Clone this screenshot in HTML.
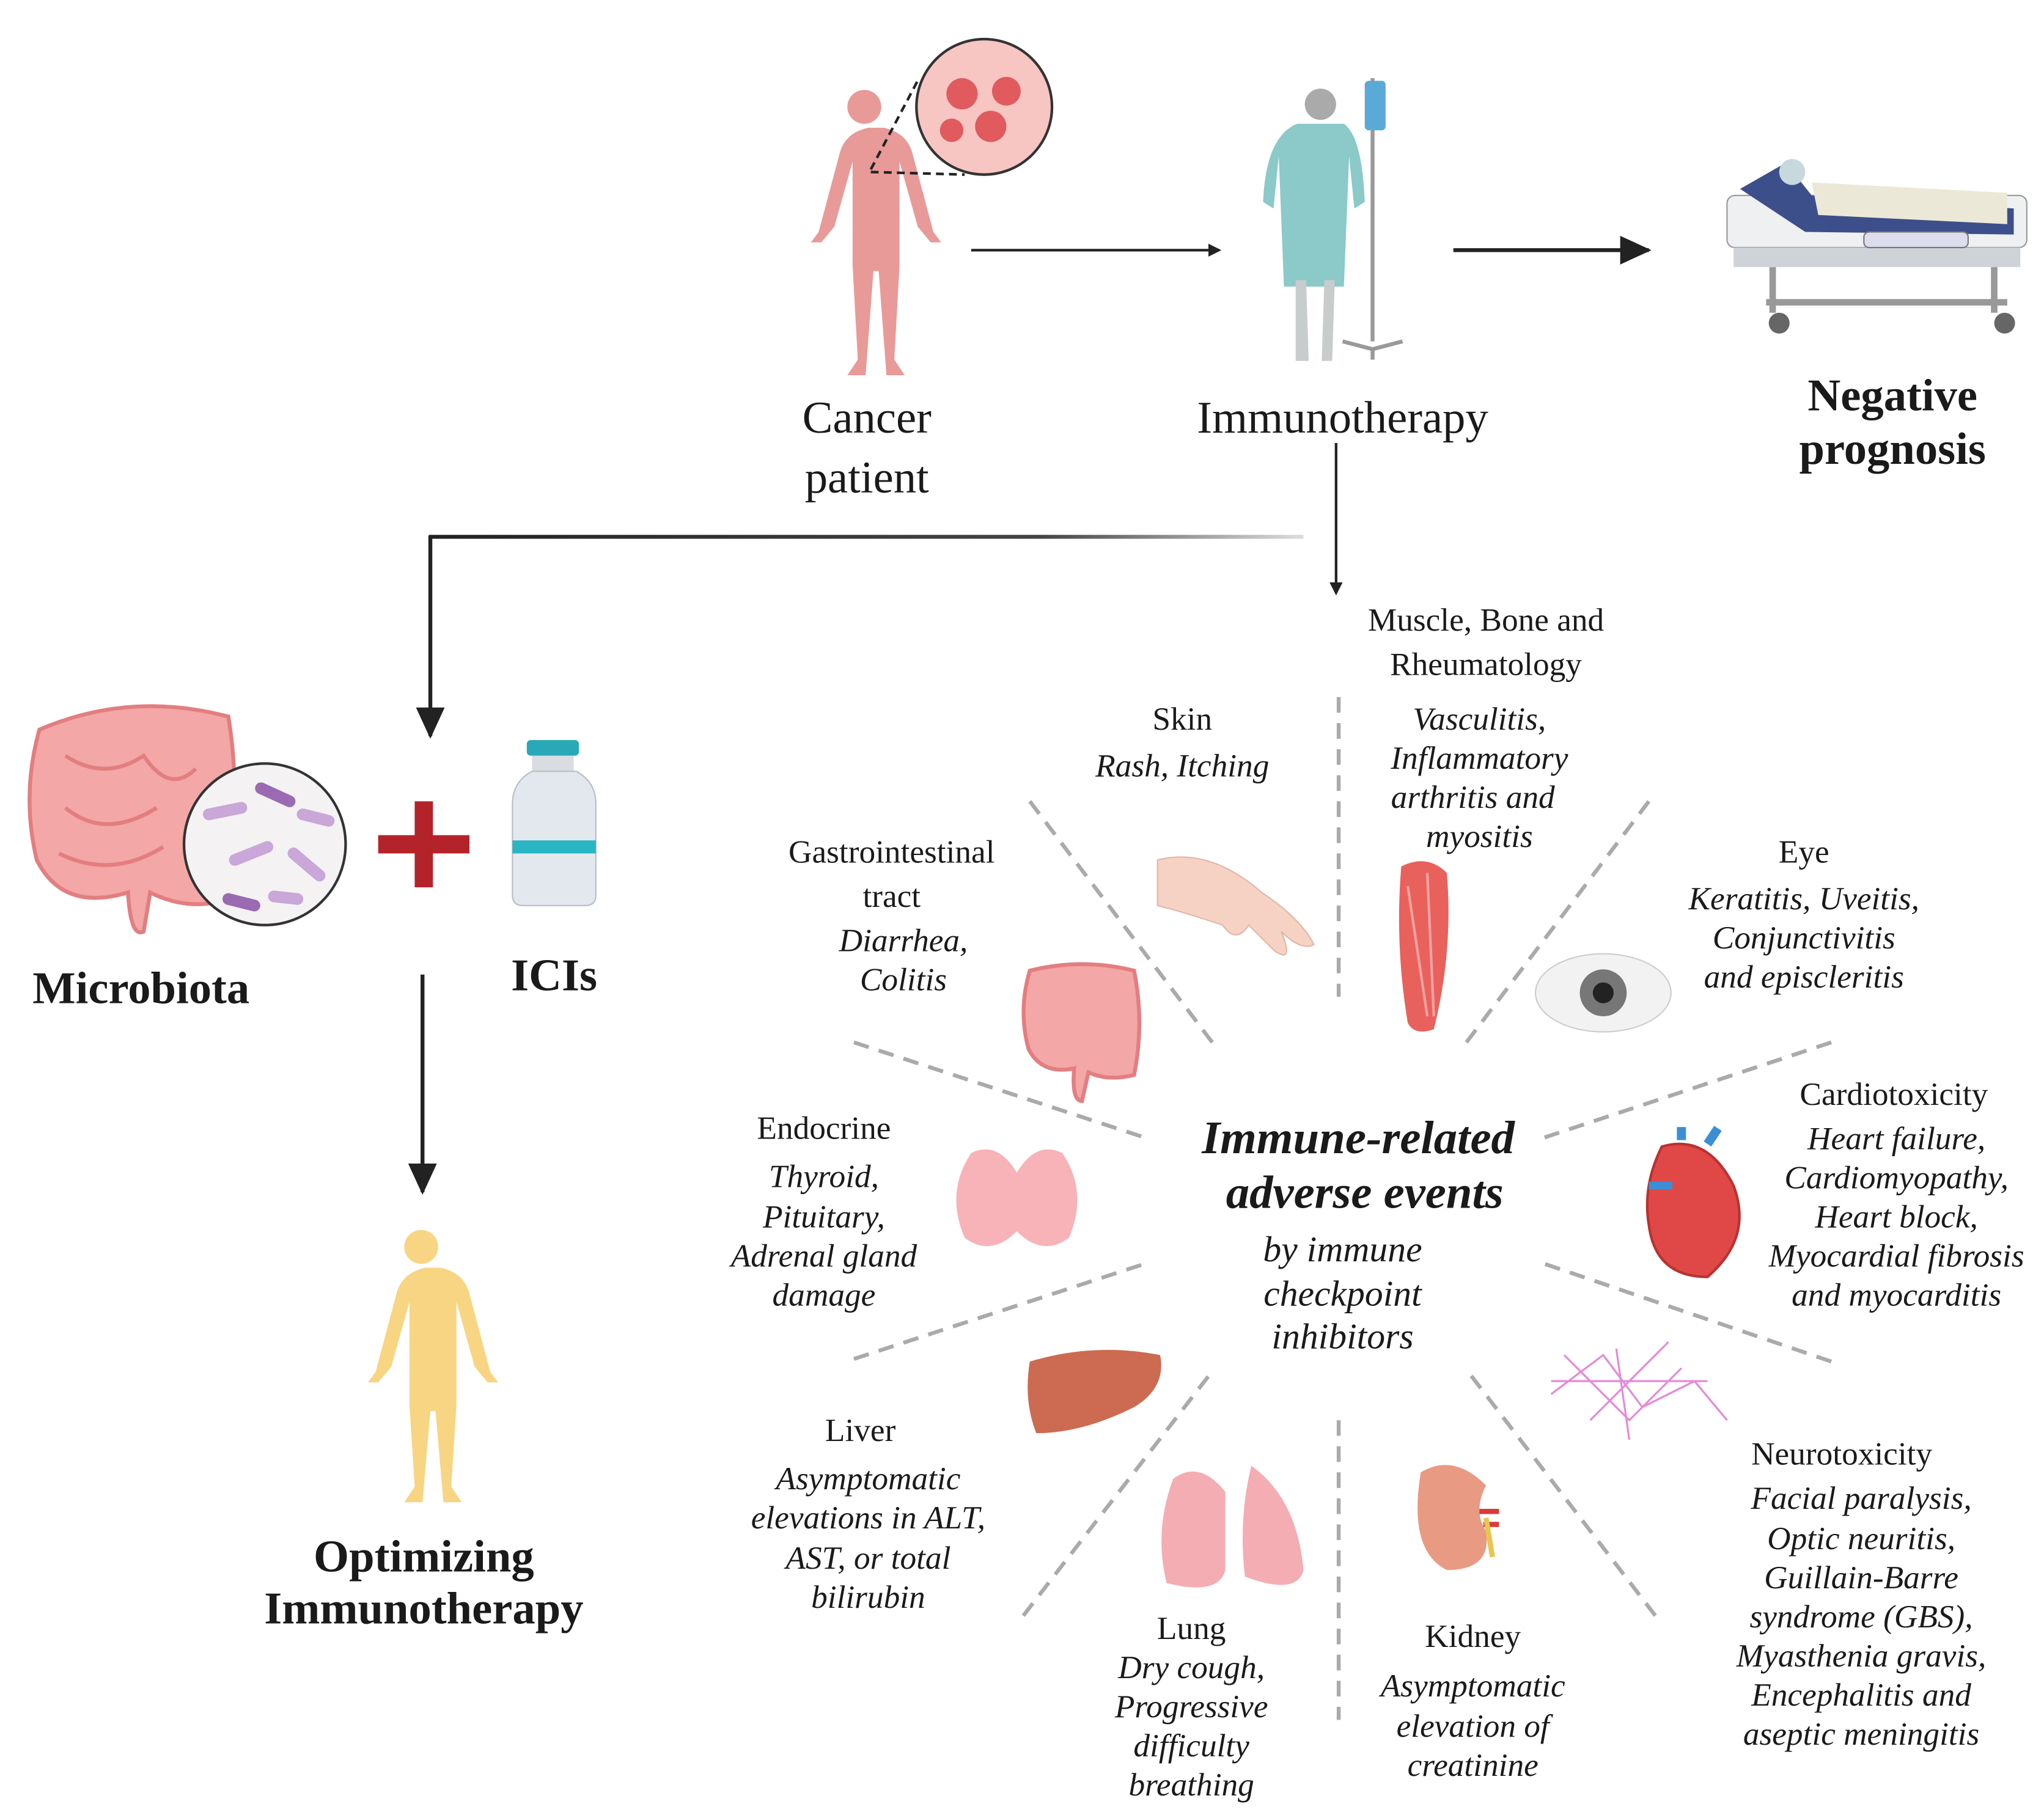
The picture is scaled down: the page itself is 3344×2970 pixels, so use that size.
<!DOCTYPE html>
<html><head><meta charset="utf-8"><style>
html,body{margin:0;padding:0;background:#fff;}
svg{display:block;}
text{font-family:"Liberation Serif",serif;fill:#1a1a1a;}
.h{font-size:25px;font-weight:bold;}
.i{font-size:25px;font-style:italic;}
.b{font-size:35px;font-weight:bold;}
</style></head><body>
<svg width="3344" height="2970" viewBox="0 0 1568 1393" xmlns="http://www.w3.org/2000/svg">
<defs>
<marker id="ar" markerWidth="10" markerHeight="10" refX="8" refY="5" orient="auto" markerUnits="userSpaceOnUse"><path d="M0,0 L10,5 L0,10 z" fill="#222"/></marker>
<marker id="ar2" markerWidth="24" markerHeight="22" refX="22" refY="11" orient="auto" markerUnits="userSpaceOnUse"><path d="M0,0 L24,11 L0,22 z" fill="#222"/></marker>
<linearGradient id="fade" gradientUnits="userSpaceOnUse" x1="330" y1="0" x2="1000" y2="0"><stop offset="0" stop-color="#222"/><stop offset="0.7" stop-color="#444"/><stop offset="1" stop-color="#ddd"/></linearGradient>
</defs>

<!-- Cancer patient figure -->
<g fill="#e89a98">
<circle cx="663" cy="82" r="13"/>
<path d="M648,98 h30 q18,4 22,20 l16,60 l6,8 l-8,0 l-10,-12 l-14,-50 l0,80 l-4,72 l8,12 h-14 l-6,-80 l-4,0 l-6,80 h-14 l8,-12 l-4,-72 l0,-80 l-14,50 l-10,12 l-8,0 l6,-8 l16,-60 q4,-16 22,-20z"/>
</g>
<circle cx="755" cy="82" r="52" fill="#f7c5c2" stroke="#333" stroke-width="2"/>
<g fill="#e05a5e"><circle cx="738" cy="72" r="12"/><circle cx="772" cy="70" r="11"/><circle cx="760" cy="97" r="12"/><circle cx="730" cy="100" r="9"/></g>
<path d="M668,130 L705,60 M668,132 L740,134" stroke="#222" stroke-width="2" stroke-dasharray="6,4" fill="none"/>

<line x1="745" y1="192" x2="935" y2="192" stroke="#222" stroke-width="2" marker-end="url(#ar)"/>

<!-- Immunotherapy patient -->
<circle cx="1013" cy="80" r="12" fill="#aaa"/>
<path d="M995,95 h36 q14,10 16,60 l-8,5 l-4,-40 l-4,100 h-46 l-4,-100 l-4,40 l-8,-5 q2,-50 26,-60z" fill="#8cc9c9"/>
<path d="M994,215 h8 l2,62 h-10z M1016,215 h8 l-2,62 h-8z" fill="#c8cccc"/>
<line x1="1053" y1="60" x2="1053" y2="262" stroke="#999" stroke-width="3"/>
<rect x="1047" y="62" width="16" height="38" rx="3" fill="#5aa9d6"/>
<path d="M1030,262 l23,6 l23,-6 M1053,268 l0,8" stroke="#999" stroke-width="3" fill="none"/>

<line x1="1115" y1="192" x2="1265" y2="192" stroke="#222" stroke-width="3" marker-end="url(#ar2)"/>

<!-- Bed -->
<g>
<rect x="1325" y="150" width="230" height="40" rx="6" fill="#eef0f2" stroke="#999"/>
<path d="M1335,145 L1370,125 L1390,150 L1545,160 L1545,180 L1385,178z" fill="#3d4f8a"/>
<path d="M1390,140 L1540,148 L1540,172 L1395,165z" fill="#ece8d8"/>
<circle cx="1375" cy="132" r="10" fill="#c7d9dc"/>
<rect x="1330" y="190" width="220" height="15" fill="#cfd2d6"/>
<path d="M1360,205 l0,35 M1530,205 l0,35 M1355,232 h185" stroke="#999" stroke-width="5"/>
<circle cx="1365" cy="248" r="8" fill="#666"/><circle cx="1538" cy="248" r="8" fill="#666"/>
<rect x="1430" y="178" width="80" height="12" rx="4" fill="#dde" stroke="#777"/>
</g>

<text class="b" x="665" y="332" text-anchor="middle" style="font-weight:normal">Cancer</text>
<text class="b" x="665" y="378" text-anchor="middle" style="font-weight:normal">patient</text>
<text class="b" x="1030" y="332" text-anchor="middle" style="font-weight:normal">Immunotherapy</text>
<text class="b" x="1452" y="315" text-anchor="middle">Negative</text>
<text class="b" x="1452" y="356" text-anchor="middle">prognosis</text>

<!-- Connectors -->
<line x1="1025" y1="340" x2="1025" y2="455" stroke="#222" stroke-width="2" marker-end="url(#ar)"/>
<rect x="329" y="410.5" width="671" height="3" fill="url(#fade)"/>
<line x1="330" y1="411" x2="330" y2="565" stroke="#222" stroke-width="3" marker-end="url(#ar2)"/>
<line x1="324" y1="748" x2="324" y2="915" stroke="#222" stroke-width="3" marker-end="url(#ar2)"/>

<!-- Microbiota -->
<path d="M30,560 q70,-30 145,-10 q10,60 0,140 q-30,10 -60,-5 l-5,30 q-10,5 -12,-30 q-50,15 -70,-25 q-12,-50 2,-100z" fill="#f3a7a6" stroke="#e37e80" stroke-width="3"/>
<path d="M50,580 q30,20 60,0 q20,30 40,10 M50,620 q30,25 70,0 M45,655 q40,20 80,-5" stroke="#e37e80" stroke-width="3" fill="none"/>
<circle cx="203" cy="648" r="62" fill="#f4f2f3" stroke="#333" stroke-width="2"/>
<g stroke-width="9" stroke-linecap="round">
<line x1="160" y1="625" x2="185" y2="620" stroke="#c9a7d8"/><line x1="200" y1="605" x2="222" y2="615" stroke="#9a6ab3"/>
<line x1="180" y1="660" x2="205" y2="650" stroke="#c9a7d8"/><line x1="225" y1="655" x2="245" y2="672" stroke="#c9a7d8"/>
<line x1="175" y1="690" x2="195" y2="695" stroke="#9a6ab3"/><line x1="232" y1="625" x2="252" y2="630" stroke="#c9a7d8"/>
<line x1="210" y1="688" x2="228" y2="690" stroke="#c9a7d8"/>
</g>
<text class="b" x="108" y="770" text-anchor="middle">Microbiota</text>
<path d="M318,615 h14 v26 h28 v14 h-28 v26 h-14 v-26 h-28 v-14 h28z" fill="#b5232a"/>
<!-- Vial -->
<rect x="404" y="568" width="40" height="12" rx="3" fill="#29a9b7"/>
<rect x="408" y="580" width="32" height="12" fill="#d9dde2"/>
<path d="M408,592 q-15,8 -15,25 v70 q0,8 8,8 h48 q8,0 8,-8 v-70 q0,-17 -15,-25z" fill="#e3e8ee" stroke="#b8bec6"/>
<rect x="393" y="645" width="64" height="10" fill="#29b5c3"/>
<text class="b" x="425" y="760" text-anchor="middle">ICIs</text>

<!-- Yellow figure -->
<g fill="#f8d582">
<circle cx="323" cy="957" r="13"/>
<path d="M308,973 h30 q18,4 22,20 l16,60 l6,8 l-8,0 l-10,-12 l-14,-50 l0,80 l-4,62 l8,12 h-14 l-6,-70 l-4,0 l-6,70 h-14 l8,-12 l-4,-62 l0,-80 l-14,50 l-10,12 l-8,0 l6,-8 l16,-60 q4,-16 22,-20z"/>
</g>
<text class="b" x="325" y="1206" text-anchor="middle">Optimizing</text>
<text class="b" x="325" y="1246" text-anchor="middle">Immunotherapy</text>

<!-- Dashed radial lines -->
<g stroke="#aaa" stroke-width="3" stroke-dasharray="12,8">
<line x1="1027" y1="535" x2="1027" y2="765"/>
<line x1="1027" y1="1090" x2="1027" y2="1320"/>
<line x1="790" y1="615" x2="930" y2="800"/>
<line x1="1265" y1="615" x2="1125" y2="800"/>
<line x1="655" y1="800" x2="878" y2="873"/>
<line x1="1405" y1="800" x2="1185" y2="873"/>
<line x1="655" y1="1043" x2="878" y2="970"/>
<line x1="1405" y1="1045" x2="1185" y2="970"/>
<line x1="785" y1="1240" x2="928" y2="1055"/>
<line x1="1270" y1="1240" x2="1128" y2="1055"/>
</g>

<!-- Center -->
<text x="1042" y="885" text-anchor="middle" style="font-size:36px;font-weight:bold;font-style:italic">Immune-related</text>
<text x="1047" y="927" text-anchor="middle" style="font-size:36px;font-weight:bold;font-style:italic">adverse events</text>
<text class="i" x="1030" y="968" text-anchor="middle" style="font-size:28px">by immune</text>
<text class="i" x="1030" y="1002" text-anchor="middle" style="font-size:28px">checkpoint</text>
<text class="i" x="1030" y="1035" text-anchor="middle" style="font-size:28px">inhibitors</text>

<!-- Organ icons -->
<path d="M888,660 q40,-10 80,25 q30,20 40,40 q-10,5 -25,-10 q10,25 -5,15 l-20,-20 q-10,15 -20,0 q-30,-10 -50,-15z" fill="#f6d2c4" stroke="#e2b6a6"/>
<path d="M1075,665 q20,-10 35,5 q5,60 -10,120 q-15,5 -20,-5 q-10,-60 -5,-120z" fill="#e8615d"/>
<path d="M1080,680 l15,100 M1095,670 l5,110" stroke="#f4a29f" stroke-width="2"/>
<ellipse cx="1230" cy="762" rx="52" ry="30" fill="#f2f2f2" stroke="#ccc"/>
<circle cx="1230" cy="762" r="18" fill="#777"/><circle cx="1230" cy="762" r="8" fill="#222"/>
<path d="M790,745 q40,-10 80,0 q8,40 0,80 q-20,5 -35,-2 l-5,22 q-8,0 -6,-25 q-25,5 -35,-15 q-8,-30 1,-60z" fill="#f3a7a6" stroke="#e37e80" stroke-width="3"/>
<path d="M745,885 q20,-10 35,15 q15,-25 35,-15 q20,30 5,65 q-20,15 -40,-5 q-20,20 -40,5 q-15,-35 5,-65z" fill="#f7b3b8"/>
<path d="M1275,880 q35,-10 55,30 q15,40 -20,70 q-40,0 -45,-40 q-5,-30 10,-60z" fill="#e04848" stroke="#b93232" stroke-width="2"/>
<path d="M1290,875 v-10 M1310,878 l8,-12" stroke="#3a8fd6" stroke-width="7"/>
<path d="M1265,910 h18" stroke="#3a8fd6" stroke-width="6"/>
<g stroke="#e58ad6" stroke-width="1.5" fill="none">
<path d="M1190,1070 l40,-30 l30,40 l40,-20 l25,30 M1200,1040 l50,50 l40,-40 M1220,1090 l60,-60 M1190,1060 l120,0 M1240,1035 l10,70"/>
</g>
<path d="M790,1045 q50,-15 100,-5 q5,25 -20,40 q-40,20 -75,20 q-10,-25 -5,-55z" fill="#cc6b52"/>
<path d="M900,1135 q-15,40 -5,80 q40,10 45,-10 l0,-60 q-20,-25 -40,-10z M960,1125 q-10,40 -5,85 q40,15 45,-5 q-5,-55 -40,-80z" fill="#f4adb2"/>
<path d="M1090,1130 q25,-15 50,10 q-10,20 0,35 q5,30 -30,30 q-30,-15 -20,-75z" fill="#e89a82"/>
<path d="M1135,1160 h15 M1138,1170 h12" stroke="#d83b3b" stroke-width="4"/>
<path d="M1140,1165 l5,30" stroke="#e8c64f" stroke-width="4"/>

<!-- Section labels -->
<text class="h" x="1140" y="484" text-anchor="middle" style="font-weight:normal">Muscle, Bone and</text>
<text class="h" x="1140" y="518" text-anchor="middle" style="font-weight:normal">Rheumatology</text>
<text class="i" x="1135" y="560" text-anchor="middle">Vasculitis,</text>
<text class="i" x="1135" y="590" text-anchor="middle">Inflammatory</text>
<text class="i" x="1130" y="620" text-anchor="middle">arthritis and</text>
<text class="i" x="1135" y="650" text-anchor="middle">myositis</text>

<text class="h" x="907" y="560" text-anchor="middle" style="font-weight:normal">Skin</text>
<text class="i" x="907" y="596" text-anchor="middle">Rash, Itching</text>

<text class="h" x="684" y="662" text-anchor="middle" style="font-weight:normal">Gastrointestinal</text>
<text class="h" x="684" y="696" text-anchor="middle" style="font-weight:normal">tract</text>
<text class="i" x="693" y="730" text-anchor="middle">Diarrhea,</text>
<text class="i" x="693" y="760" text-anchor="middle">Colitis</text>

<text class="h" x="1384" y="662" text-anchor="middle" style="font-weight:normal">Eye</text>
<text class="i" x="1384" y="698" text-anchor="middle">Keratitis, Uveitis,</text>
<text class="i" x="1384" y="728" text-anchor="middle">Conjunctivitis</text>
<text class="i" x="1384" y="758" text-anchor="middle">and episcleritis</text>

<text class="h" x="1453" y="848" text-anchor="middle" style="font-weight:normal">Cardiotoxicity</text>
<text class="i" x="1455" y="882" text-anchor="middle">Heart failure,</text>
<text class="i" x="1455" y="912" text-anchor="middle">Cardiomyopathy,</text>
<text class="i" x="1455" y="942" text-anchor="middle">Heart block,</text>
<text class="i" x="1455" y="972" text-anchor="middle">Myocardial fibrosis</text>
<text class="i" x="1455" y="1002" text-anchor="middle">and myocarditis</text>

<text class="h" x="632" y="874" text-anchor="middle" style="font-weight:normal">Endocrine</text>
<text class="i" x="632" y="911" text-anchor="middle">Thyroid,</text>
<text class="i" x="632" y="942" text-anchor="middle">Pituitary,</text>
<text class="i" x="632" y="972" text-anchor="middle">Adrenal gland</text>
<text class="i" x="632" y="1002" text-anchor="middle">damage</text>

<text class="h" x="660" y="1106" text-anchor="middle" style="font-weight:normal">Liver</text>
<text class="i" x="666" y="1143" text-anchor="middle">Asymptomatic</text>
<text class="i" x="666" y="1173" text-anchor="middle">elevations in ALT,</text>
<text class="i" x="666" y="1204" text-anchor="middle">AST, or total</text>
<text class="i" x="666" y="1234" text-anchor="middle">bilirubin</text>

<text class="h" x="914" y="1258" text-anchor="middle" style="font-weight:normal">Lung</text>
<text class="i" x="914" y="1288" text-anchor="middle">Dry cough,</text>
<text class="i" x="914" y="1318" text-anchor="middle">Progressive</text>
<text class="i" x="914" y="1348" text-anchor="middle">difficulty</text>
<text class="i" x="914" y="1378" text-anchor="middle">breathing</text>

<text class="h" x="1130" y="1264" text-anchor="middle" style="font-weight:normal">Kidney</text>
<text class="i" x="1130" y="1302" text-anchor="middle">Asymptomatic</text>
<text class="i" x="1130" y="1333" text-anchor="middle">elevation of</text>
<text class="i" x="1130" y="1363" text-anchor="middle">creatinine</text>

<text class="h" x="1413" y="1124" text-anchor="middle" style="font-weight:normal">Neurotoxicity</text>
<text class="i" x="1428" y="1158" text-anchor="middle">Facial paralysis,</text>
<text class="i" x="1428" y="1189" text-anchor="middle">Optic neuritis,</text>
<text class="i" x="1428" y="1219" text-anchor="middle">Guillain-Barre</text>
<text class="i" x="1428" y="1249" text-anchor="middle">syndrome (GBS),</text>
<text class="i" x="1428" y="1279" text-anchor="middle">Myasthenia gravis,</text>
<text class="i" x="1428" y="1309" text-anchor="middle">Encephalitis and</text>
<text class="i" x="1428" y="1339" text-anchor="middle">aseptic meningitis</text>
</svg>
</body></html>
